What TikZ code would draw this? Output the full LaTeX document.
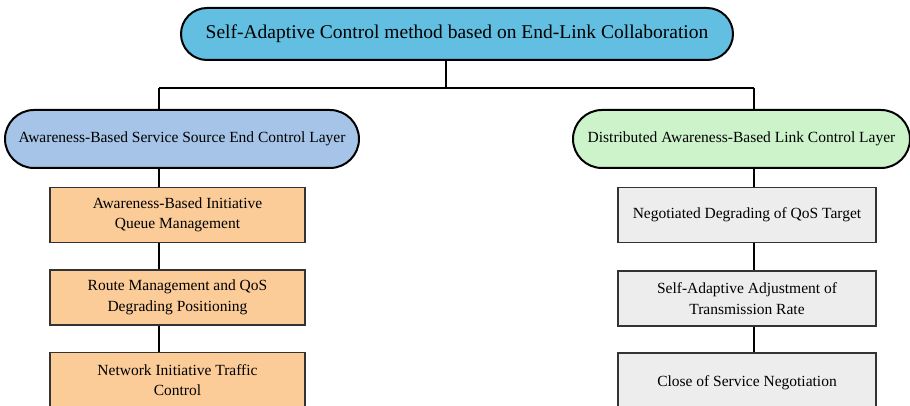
\documentclass[tikz,border=0pt]{standalone}
\usepackage{fontspec}
\setmainfont{Liberation Serif}
\newfontfamily\timesfont{Liberation Serif}
\usetikzlibrary{shapes.misc}
\definecolor{topblue}{HTML}{62BFE1}
\definecolor{leftblue}{HTML}{A5C4E8}
\definecolor{rightgreen}{HTML}{CDF3CB}
\definecolor{boxorange}{HTML}{FBCB98}
\definecolor{boxgrey}{HTML}{ECEDEC}
\begin{document}
\begin{tikzpicture}[x=1pt,y=-1pt,
  pill/.style={rounded rectangle, draw=black, line width=2pt, inner sep=0pt, align=center},
  stepbox/.style={rectangle, draw=black!80, line width=1.4pt, inner sep=0pt, align=center, font=\timesfont\fontsize{15.5}{20.5}\selectfont},
  link/.style={draw=black, line width=2pt}]
\useasboundingbox (0,0) rectangle (910,406);
\clip (0,0) rectangle (910,406);
\fill[white] (0,0) rectangle (910,406);
\node[pill, fill=topblue, minimum width=552pt, minimum height=52pt, font=\timesfont\fontsize{19.5}{22}\selectfont] (top) at (457,34) {Self-Adaptive Control method based on End-Link Collaboration};
\node[pill, fill=leftblue, minimum width=354pt, minimum height=58pt, font=\timesfont\fontsize{15.5}{18}\selectfont] (L) at (182,139) {Awareness-Based Service Source End Control Layer};
\node[pill, fill=rightgreen, minimum width=337pt, minimum height=58pt, font=\timesfont\fontsize{15.5}{18}\selectfont] (R) at (741.5,139) {Distributed Awareness-Based Link Control Layer};
\node[stepbox, fill=boxorange, minimum width=255pt, minimum height=55pt] (l1) at (177.5,215) {Awareness-Based Initiative\\Queue Management};
\node[stepbox, fill=boxorange, minimum width=255pt, minimum height=55pt] (l2) at (177.5,297.5) {Route Management and QoS\\Degrading Positioning};
\node[stepbox, fill=boxorange, minimum width=255pt, minimum height=55pt] (l3) at (177.5,380) {Network Initiative Traffic\\Control};
\node[stepbox, fill=boxgrey, minimum width=258pt, minimum height=55pt] (r1) at (747,215) {Negotiated Degrading of QoS Target};
\node[stepbox, fill=boxgrey, minimum width=258pt, minimum height=55pt] (r2) at (747,298.5) {Self-Adaptive Adjustment of\\Transmission Rate};
\node[stepbox, fill=boxgrey, minimum width=258pt, minimum height=60pt] (r3) at (747,383) {Close of Service Negotiation};
\coordinate (jm) at (446,88);
\coordinate (jl) at (159,88);
\coordinate (jr) at (754,88);
\draw[link] (top.south -| jm) -- (jm);
\draw[link] (jl) -- (jr);
\draw[link] (jl) -- (L.north -| jl);
\draw[link] (jr) -- (R.north -| jr);
\draw[link] (L.south -| jl) -- (l1.north -| jl);
\draw[link] (l1.south -| jl) -- (l2.north -| jl);
\draw[link] (l2.south -| jl) -- (l3.north -| jl);
\draw[link] (R.south -| jr) -- (r1.north -| jr);
\draw[link] (r1.south -| jr) -- (r2.north -| jr);
\draw[link] (r2.south -| jr) -- (r3.north -| jr);
\end{tikzpicture}
\end{document}
